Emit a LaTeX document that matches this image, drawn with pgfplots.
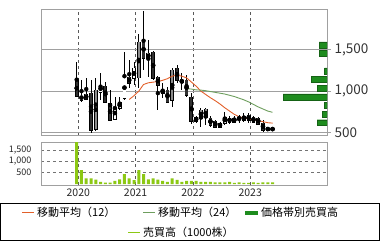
\documentclass[border=0pt]{standalone}
\usepackage{fontspec}
\setmainfont{Noto Sans CJK JP}
\usepackage{pgfplots}
\usepackage{pgfplotstable}
\pgfplotsset{compat=1.18}
\definecolor{ma12}{RGB}{226,96,42}
\definecolor{ma24}{RGB}{110,158,94}
\definecolor{pband}{RGB}{30,140,30}
\definecolor{vol}{RGB}{140,200,20}
\definecolor{frame}{RGB}{160,160,160}
\definecolor{dkc}{RGB}{48,48,48}
\definecolor{gyc}{RGB}{140,140,140}

% dark (down) candles
\pgfplotstableread{
i o h l c
0 1132 1348 928 940
3 976 1132 496 532
6 1060 1108 856 868
7 856 1012 652 652
11 1168 1372 1036 1096
14 1612 1960 1252 1396
16 1468 1480 1132 1156
17 1168 1180 772 1072
19 1012 1048 856 868
21 1276 1312 1096 1132
23 1132 1192 928 952
24 928 976 604 640
28 676 700 568 592
29 640 652 556 568
35 700 736 628 652
37 688 700 616 628
38 676 688 592 604
39 616 652 508 532
}\dk
% gray candles
\pgfplotstableread{
i o h l c
4 1012 1156 520 544
13 1160 1684 1036 1590
20 892 1276 808 1252
26 676 796 568 772
27 688 796 592 784
36 652 736 616 712
}\gy
% white (up) candles
\pgfplotstableread{
i o h l c
1 892 1132 868 952
2 904 1156 892 964
5 988 1216 892 1072
8 664 928 664 808
9 796 928 772 868
10 916 1468 892 1168
12 1156 1348 1072 1276
15 1396 1612 1168 1456
18 976 1096 916 1012
22 1108 1216 1012 1132
25 640 700 616 688
30 568 628 556 616
31 616 748 592 688
32 628 700 604 676
33 628 700 616 676
34 658 712 616 688
40 532 568 520 556
41 532 556 528 556
}\wh
% moving average 12
\pgfplotstableread{
i v
11 900
12 945
13 1000
14 1080
15 1100
16 1108
17 1115
18 1130
19 1150
20 1180
21 1192
22 1180
23 1160
24 1110
25 1060
26 1000
27 960
28 920
29 885
30 845
31 800
32 760
33 720
34 692
35 676
36 666
37 656
38 645
39 632
40 620
41 615
}\maA
% moving average 24
\pgfplotstableread{
i v
23 1030
24 1025
25 1015
26 1012
27 1005
28 995
29 985
30 975
31 965
32 950
33 935
34 915
35 895
36 870
37 840
38 810
39 785
40 760
41 745
}\maB
% volume (1000 shares)
\pgfplotstableread{
i v
0 2000
1 620
2 250
3 250
4 200
5 100
6 60
7 60
8 146
9 206
10 442
11 250
12 177
13 620
14 442
15 206
16 250
17 200
18 146
19 100
20 250
21 190
22 100
23 146
24 146
25 146
26 100
27 100
28 100
29 80
30 80
31 80
32 100
33 50
34 80
35 50
36 50
37 80
38 50
39 80
40 80
41 80
}\vol
% volume by price band (bar length in pt, price)
\pgfplotstableread{
w p
8 1556
8 1452
2.5 1244
16 1140
9.5 1036
44 932
2.5 828
5 724
10 620
}\pband

\pgfplotsset{
 wick/.style={only marks, mark=none, forget plot, error bars/.cd, y dir=both, y explicit, error mark=none, error bar style={line width=0.8pt, black, solid}},
 body/.style 2 args={only marks, mark=none, forget plot, error bars/.cd, y dir=both, y explicit, error mark=none, error bar style={line width=#1, #2, solid}},
}

\begin{document}
\begin{tikzpicture}[x=1pt,y=1pt]
\useasboundingbox (0,0) rectangle (380,241);

% ---------- main price panel ----------
\begin{axis}[
  at={(41pt,106pt)}, anchor=south west,
  width=286pt, height=125.3pt, scale only axis,
  xmin=-7.47, xmax=52.4, ymin=472, ymax=1980,
  axis line style={draw=frame, line width=0.8pt},
  xtick={0.33,12.33,24.33,36.33}, xticklabels={},
  xtick style={draw=none},
  ytick={500,1000,1500}, yticklabels={500,{1,000},{1,500}},
  ytick pos=right, yticklabel pos=right,
  ytick style={draw=frame, line width=0.8pt},
  tick align=outside, major tick length=4pt,
  yticklabel style={font=\fontsize{13.5}{14}\selectfont, text=black!80},
  xmajorgrids, ymajorgrids,
  x grid style={dashed, black!65, line width=0.6pt},
  y grid style={solid, frame, line width=0.8pt},
]
\addplot[wick] table[x=i, y expr={(\thisrow{h}+\thisrow{l})/2}, y error expr={(\thisrow{h}-\thisrow{l})/2}]{\dk};
\addplot[wick] table[x=i, y expr={(\thisrow{h}+\thisrow{l})/2}, y error expr={(\thisrow{h}-\thisrow{l})/2}]{\gy};
\addplot[wick] table[x=i, y expr={(\thisrow{h}+\thisrow{l})/2}, y error expr={(\thisrow{h}-\thisrow{l})/2}]{\wh};
\addplot[body={3.8pt}{black}] table[x=i, y expr={(\thisrow{o}+\thisrow{c})/2}, y error expr={abs(\thisrow{o}-\thisrow{c})/2+6}]{\dk};
\addplot[body={3.8pt}{black}] table[x=i, y expr={(\thisrow{o}+\thisrow{c})/2}, y error expr={abs(\thisrow{o}-\thisrow{c})/2+6}]{\gy};
\addplot[body={3.8pt}{black}] table[x=i, y expr={(\thisrow{o}+\thisrow{c})/2}, y error expr={abs(\thisrow{o}-\thisrow{c})/2+6}]{\wh};
\addplot[body={2.2pt}{dkc}] table[x=i, y expr={(\thisrow{o}+\thisrow{c})/2}, y error expr={abs(\thisrow{o}-\thisrow{c})/2}]{\dk};
\addplot[body={2.2pt}{gyc}] table[x=i, y expr={(\thisrow{o}+\thisrow{c})/2}, y error expr={abs(\thisrow{o}-\thisrow{c})/2}]{\gy};
\addplot[body={2.2pt}{white}] table[x=i, y expr={(\thisrow{o}+\thisrow{c})/2}, y error expr={abs(\thisrow{o}-\thisrow{c})/2}]{\wh};
\addplot[ma12, line width=0.9pt, mark=none] table[x=i, y=v]{\maA};
\addplot[ma24, line width=0.9pt, mark=none] table[x=i, y=v]{\maB};
\end{axis}

% ---------- volume by price band (overlay) ----------
\begin{axis}[
  at={(41pt,106pt)}, anchor=south west,
  width=286pt, height=125.3pt, scale only axis,
  xmin=0, xmax=286, x dir=reverse, ymin=472, ymax=1980,
  hide axis,
]
\addplot[xbar, bar width=72, fill=pband, draw=pband!70!black, line width=0.4pt] table[x=w, y=p]{\pband};
\end{axis}

% ---------- volume panel ----------
\begin{axis}[
  at={(41pt,56pt)}, anchor=south west,
  width=286pt, height=42.7pt, scale only axis,
  xmin=-7.47, xmax=52.4, ymin=-40, ymax=1845,
  axis line style={draw=frame, line width=0.8pt},
  xtick={0.33,12.33,24.33,36.33}, xticklabels={2020,2021,2022,2023},
  xtick style={draw=none},
  xticklabel style={font=\fontsize{10.5}{12}\selectfont, text=black!85},
  ytick={500,1000,1500}, yticklabels={500,{1,000},{1,500}},
  ytick pos=left, ytick style={draw=none},
  yticklabel style={font=\fontsize{9}{10}\selectfont, text=black!85, xshift=-6pt},
  xmajorgrids, ymajorgrids,
  x grid style={dashed, black!65, line width=0.6pt},
  y grid style={dashed, black!55, line width=0.6pt},
]
\addplot[ybar, bar width=3pt, fill=vol, draw=none] table[x=i, y=v]{\vol};
\end{axis}

% ---------- legend ----------
\draw[black, line width=0.8pt] (0.5,0.8) rectangle (379.5,37.7);
\begin{scope}[every node/.style={anchor=west, inner sep=0pt, font=\fontsize{11}{13}\selectfont}]
\node at (22,28.3) {\textcolor{ma12}{\rule[0.32em]{12pt}{0.9pt}}\hspace{3pt}移動平均（12）};
\node at (143,28.3) {\textcolor{ma24}{\rule[0.32em]{12pt}{0.9pt}}\hspace{3pt}移動平均（24）};
\node at (245,28.3) {\textcolor{pband}{\rule[0.2em]{13pt}{3.5pt}}\hspace{3pt}価格帯別売買高};
\node at (128,8.3) {\textcolor{vol}{\rule[0.32em]{12pt}{0.9pt}}\hspace{3pt}売買高（1000株）};
\end{scope}
\end{tikzpicture}
\end{document}
